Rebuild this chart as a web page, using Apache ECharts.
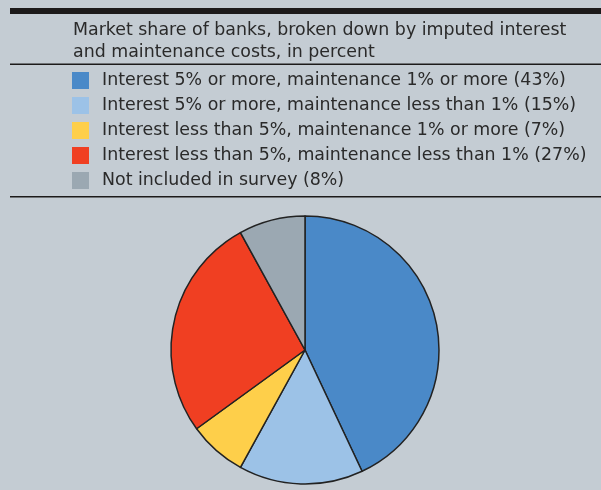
<!DOCTYPE html>
<html>
<head>
<meta charset="utf-8">
<script src="https://cdn.jsdelivr.net/npm/echarts@6/dist/echarts.min.js"></script>
<style>
  html, body { margin: 0; padding: 0; background: #c4ccd3; }
  #chart { width: 601px; height: 490px; }
</style>
</head>
<body>
<div id="chart"></div>
<script>
// Market share by imputed interest / maintenance cost group (percent)
const categories = [
  'Interest 5% or more, maintenance 1% or more (43%)',
  'Interest 5% or more, maintenance less than 1% (15%)',
  'Interest less than 5%, maintenance 1% or more (7%)',
  'Interest less than 5%, maintenance less than 1% (27%)',
  'Not included in survey (8%)'
];
const shares = [43, 15, 7, 27, 8];
const colors = ['#4a89c8', '#9cc2e7', '#fecf4a', '#f03f22', '#9ba8b2'];
const titleLines = [
  'Market share of banks, broken down by imputed interest',
  'and maintenance costs, in percent'
];

const FONT = '"DejaVu Sans", sans-serif';
const chart = echarts.init(document.getElementById('chart'), null, { renderer: 'canvas' });

chart.setOption({
  backgroundColor: '#c4ccd3',
  animation: false,
  title: {
    text: titleLines.join('\n'),
    left: 68,
    top: 14,
    textStyle: {
      fontFamily: FONT,
      fontSize: 17.4,
      fontWeight: 'normal',
      lineHeight: 22,
      color: '#2a2a2a'
    }
  },
  legend: {
    orient: 'vertical',
    left: 72,
    top: 72,
    padding: 0,
    itemWidth: 17,
    itemHeight: 17,
    itemGap: 8,
    icon: 'rect',
    selectedMode: false,
    data: categories,
    itemStyle: { borderWidth: 0 },
    textStyle: {
      fontFamily: FONT,
      fontSize: 17.4,
      lineHeight: 17,
      color: '#2a2a2a',
      padding: [0, 0, 0, 8]
    }
  },
  graphic: [
    { type: 'rect', shape: { x: 10, y: 8, width: 591, height: 6 }, style: { fill: '#1c1a1a' } },
    { type: 'rect', shape: { x: 10, y: 63.5, width: 591, height: 1.5 }, style: { fill: '#1c1a1a' } },
    { type: 'rect', shape: { x: 10, y: 196, width: 591, height: 1.5 }, style: { fill: '#1c1a1a' } }
  ],
  series: [{
    type: 'pie',
    center: [305, 350],
    radius: 134,
    startAngle: 90,
    clockwise: true,
    label: { show: false },
    labelLine: { show: false },
    emphasis: { disabled: true },
    itemStyle: { borderColor: '#222', borderWidth: 1.5 },
    data: categories.map((name, i) => ({
      name,
      value: shares[i],
      itemStyle: { color: colors[i] }
    }))
  }]
});
</script>
</body>
</html>
